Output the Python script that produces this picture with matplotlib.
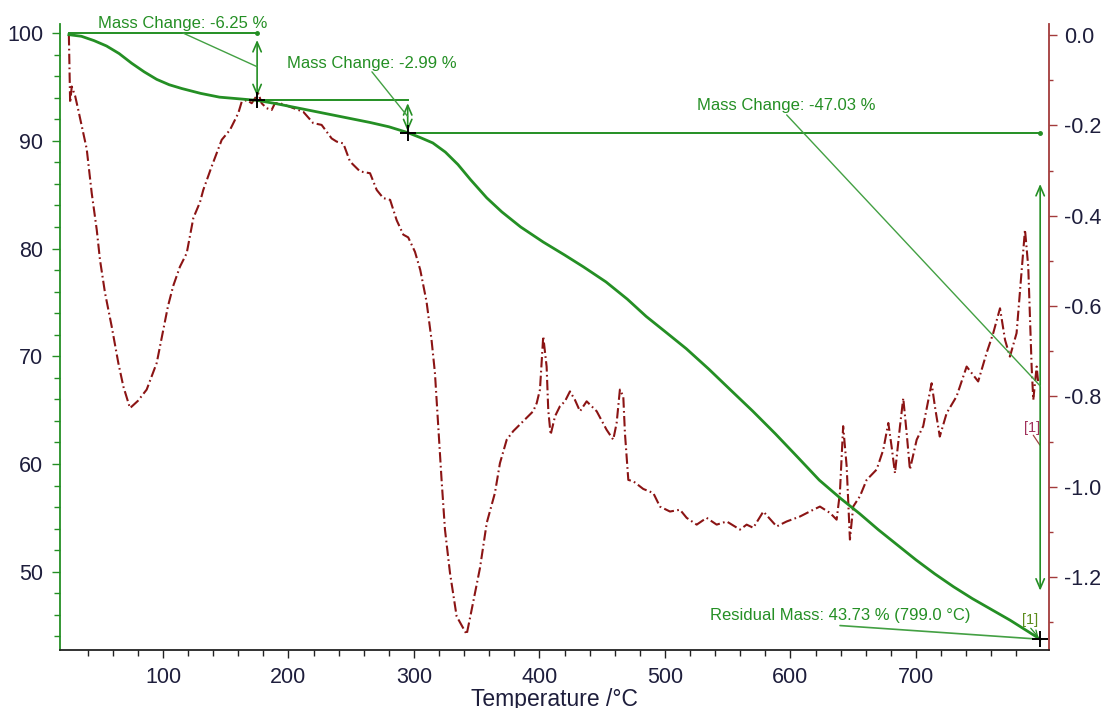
import numpy as np
import matplotlib.pyplot as plt
from matplotlib.ticker import MultipleLocator, FixedLocator, FormatStrFormatter

# TG curve: mass (%) vs temperature (°C)
tg_temp = [25, 35, 45, 55, 65, 75, 85, 95, 105, 115, 130, 145, 160, 175,
           190, 205, 220, 235, 250, 265, 280, 295, 305, 315, 325, 335, 345,
           358, 370, 385, 403, 420, 435, 453, 470, 485, 500, 517, 535, 552,
           570, 588, 606, 623, 640, 655, 670, 685, 700, 715, 730, 745, 760,
           775, 790, 799]
tg_mass = [99.85, 99.7, 99.3, 98.8, 98.1, 97.2, 96.4, 95.7, 95.2, 94.85,
           94.4, 94.05, 93.9, 93.75, 93.45, 93.1, 92.75, 92.4, 92.05, 91.7,
           91.3, 90.76, 90.3, 89.8, 88.95, 87.8, 86.4, 84.7, 83.4, 82.0,
           80.6, 79.4, 78.3, 76.9, 75.3, 73.7, 72.3, 70.7, 68.8, 66.9, 64.9,
           62.8, 60.6, 58.5, 56.8, 55.4, 53.9, 52.5, 51.1, 49.8, 48.6, 47.5,
           46.5, 45.5, 44.4, 43.73]

# DTG curve (%/°C) vs temperature (°C)
dtg_temp = [25.0, 25.5, 26.0, 27.3, 30.0, 32.5, 36.5, 39.2, 43.2, 47.2, 49.8,
            53.8, 59.1, 64.4, 68.4, 73.7, 80.0, 87.0, 95.0, 100.2, 104.0,
            108.2, 113.5, 118.9, 124.2, 129.5, 132.1, 138.8, 146.8, 153.4,
            160.0, 162.7, 166.7, 170.7, 176.0, 178.6, 182.6, 186.6, 189.2,
            193.2, 201.2, 211.8, 219.7, 226.4, 234.4, 238.4, 243.7, 249.0,
            257.0, 265.0, 270.3, 275.5, 281.0, 286.2, 291.5, 295.4, 300.8,
            305.0, 310.0, 314.0, 316.7, 319.4, 322.0, 324.7, 328.7, 334.0,
            342.0, 346.0, 352.6, 358.0, 364.5, 368.5, 373.9, 379.1, 387.1,
            395.0, 397.8, 400.4, 403.0, 405.7, 407.0, 408.9, 412.4, 416.3,
            420.3, 424.3, 428.3, 432.3, 437.6, 445.6, 453.5, 458.8, 461.5,
            464.1, 466.8, 468.1, 470.8, 474.8, 482.7, 490.7, 496.0, 504.0,
            512.0, 517.3, 525.3, 533.2, 541.2, 549.2, 559.8, 565.1, 570.4,
            578.4, 589.0, 597.0, 607.6, 618.2, 623.5, 631.5, 636.8, 639.4,
            642.0, 644.8, 647.4, 650.0, 655.4, 660.7, 668.7, 674.0, 678.0,
            680.6, 683.3, 687.3, 689.9, 692.6, 695.2, 700.6, 705.8, 712.5,
            715.1, 719.0, 724.5, 732.4, 740.4, 749.6, 756.3, 761.6, 767.0,
            771.0, 774.9, 780.2, 786.9, 789.5, 792.2, 793.5, 796.2, 797.5]
dtg_val = [0.0, -0.08, -0.15, -0.114, -0.135, -0.166, -0.217, -0.252, -0.35,
           -0.431, -0.498, -0.571, -0.645, -0.726, -0.778, -0.826, -0.81,
           -0.785, -0.726, -0.653, -0.60, -0.555, -0.513, -0.483, -0.405,
           -0.37, -0.343, -0.291, -0.232, -0.21, -0.173, -0.148, -0.144,
           -0.151, -0.129, -0.151, -0.162, -0.166, -0.151, -0.151, -0.159,
           -0.17, -0.195, -0.199, -0.229, -0.236, -0.24, -0.28, -0.302,
           -0.306, -0.343, -0.361, -0.365, -0.41, -0.442, -0.448, -0.48,
           -0.52, -0.59, -0.675, -0.748, -0.867, -0.985, -1.095, -1.191,
           -1.287, -1.327, -1.272, -1.18, -1.08, -1.014, -0.948, -0.896,
           -0.877, -0.855, -0.833, -0.815, -0.785, -0.667, -0.734, -0.83,
           -0.885, -0.844, -0.822, -0.811, -0.789, -0.808, -0.833, -0.811,
           -0.833, -0.874, -0.896, -0.859, -0.785, -0.80, -0.881, -0.985,
           -0.988, -1.005, -1.014, -1.044, -1.055, -1.051, -1.069, -1.084,
           -1.069, -1.084, -1.077, -1.095, -1.084, -1.091, -1.055, -1.088,
           -1.077, -1.066, -1.051, -1.044, -1.058, -1.073, -1.014, -0.866,
           -0.955, -1.117, -1.044, -1.021, -0.985, -0.962, -0.918, -0.859,
           -0.911, -0.97, -0.866, -0.804, -0.881, -0.962, -0.896, -0.866,
           -0.771, -0.822, -0.889, -0.837, -0.80, -0.734, -0.767, -0.704,
           -0.66, -0.605, -0.675, -0.712, -0.66, -0.431, -0.513, -0.734,
           -0.808, -0.734, -0.771]

# mass change steps
step_temp = [25, 175, 295, 799]
step_mass = [100.0, 93.75, 90.76, 43.73]
mass_change = [-6.25, -2.99, -47.03]
residual_mass = 43.73
residual_temp = 799.0

x_major = [100, 200, 300, 400, 500, 600, 700]
x_minor = list(range(40, 800, 20))

green = '#248f24'
green_thin = '#43a043'
red = '#8b1414'
label_col = '#1e1e3c'

plt.rcParams['font.family'] = ['Liberation Sans', 'DejaVu Sans']
plt.rcParams['axes.unicode_minus'] = False
narrow = ['Liberation Sans Narrow', 'Liberation Sans', 'DejaVu Sans']
ann_size = 12

fig = plt.figure(figsize=(11.03, 7.08), dpi=100)
ax = fig.add_axes([0.0544, 0.0819, 0.8966, 0.8842])
ax2 = ax.twinx()
ax.set_zorder(ax2.get_zorder() + 1)
ax.patch.set_visible(False)

# curves
ax2.plot(dtg_temp, dtg_val, color=red, lw=1.5,
         linestyle=(0, (5, 1.6, 0.8, 1.6)))
ax.plot(tg_temp, tg_mass, color=green, lw=2.0)

# mass change annotations
label_pos = [(116, 100.93), (266.5, 97.2), (597, 93.3)]
pointer_start = [(116, 100.0), (266.5, 96.4), (597, 92.4)]
shrinks = [(5, 3), (2, 1), (37, 35)]
for i in range(3):
    t0, t1 = step_temp[i], step_temp[i + 1]
    m0, m1 = step_mass[i], step_mass[i + 1]
    ax.plot([t0, t1], [m0, m0], color=green, lw=1.4, clip_on=False)
    ax.annotate('', xy=(t1, m1), xytext=(t1, m0),
                arrowprops=dict(arrowstyle='<->,head_length=0.7,head_width=0.3',
                                color=green, lw=1.2,
                                shrinkA=shrinks[i][0], shrinkB=shrinks[i][1]))
    ax.annotate('', xy=(t1, (m0 + m1) / 2), xytext=pointer_start[i],
                arrowprops=dict(arrowstyle='-', color=green_thin, lw=1.0,
                                shrinkA=0, shrinkB=0))
    ax.text(label_pos[i][0], label_pos[i][1],
            f'Mass Change: {mass_change[i]:.2f} %', color=green,
            fontsize=ann_size, family=narrow, ha='center', va='center',
            clip_on=False)
for i in [0, 2]:
    ax.plot(step_temp[i + 1], step_mass[i], 'o', ms=2.5, color=green, clip_on=False)

ax.plot(step_temp[1:], step_mass[1:], '+', ms=11, mew=1.4, color='black',
        clip_on=False, zorder=5)

# residual mass
ax.text(639.5, 45.96, f'Residual Mass: {residual_mass:.2f} % ({residual_temp:.1f} °C)',
        color=green, fontsize=ann_size, family=narrow, ha='center', va='center')
ax.annotate('', xy=(residual_temp, residual_mass), xytext=(639.5, 45.0),
            arrowprops=dict(arrowstyle='-', color=green_thin, lw=1.2,
                            shrinkA=0, shrinkB=0))
ax.text(790.8, 45.5, '[1]', color='#5c8c1c', fontsize=10.5, family=narrow,
        ha='center', va='center')
ax.annotate('', xy=(residual_temp, residual_mass), xytext=(791.5, 44.75),
            arrowprops=dict(arrowstyle='->,head_length=0.4,head_width=0.2',
                            color=green, lw=0.9, shrinkA=0, shrinkB=2))
ax2.text(792.2, -0.869, '[1]', color='#a0305a', fontsize=10.5, family=narrow,
         ha='center', va='center')
ax2.annotate('', xy=(798.8, -0.908), xytext=(793.5, -0.886),
             arrowprops=dict(arrowstyle='-', color='#a04040', lw=0.9,
                             shrinkA=0, shrinkB=0))

# axes
ax.set_xlim(17.93, 806.0)
ax.set_ylim(42.73, 100.84)
ax2.set_ylim(-1.3616, 0.0244)

ax.xaxis.set_major_locator(FixedLocator(x_major))
ax.xaxis.set_minor_locator(FixedLocator([t for t in x_minor if t not in x_major]))
ax.yaxis.set_major_locator(MultipleLocator(10))
ax.yaxis.set_minor_locator(MultipleLocator(2))
ax2.yaxis.set_major_locator(MultipleLocator(0.2))
ax2.yaxis.set_minor_locator(MultipleLocator(0.1))
ax2.yaxis.set_major_formatter(FormatStrFormatter('%.1f'))

ax.tick_params(axis='x', which='major', length=6, width=1, color='#222222',
               labelsize=15.5, labelcolor=label_col, pad=6)
ax.tick_params(axis='x', which='minor', length=4, width=1, color='#222222')
ax.tick_params(axis='y', which='major', length=6, width=1, color=green,
               labelsize=15.5, labelcolor=label_col, pad=6)
ax.tick_params(axis='y', which='minor', length=4, width=1, color=green)
ax2.tick_params(axis='y', which='major', length=6, width=1, color='#a33a3a',
                labelsize=15.5, labelcolor=label_col, pad=5)
ax2.tick_params(axis='y', which='minor', length=3, width=1, color='#a33a3a')

ax.spines['top'].set_visible(False)
ax.spines['right'].set_visible(False)
ax.spines['left'].set_color(green)
ax.spines['left'].set_linewidth(1.3)
ax.spines['bottom'].set_color('#222222')
ax.spines['bottom'].set_linewidth(1.3)
for s in ['top', 'left', 'bottom']:
    ax2.spines[s].set_visible(False)
ax2.spines['right'].set_color('#a33a3a')
ax2.spines['right'].set_linewidth(1.3)

ax.set_xlabel('Temperature /°C', fontsize=16.5, color=label_col, labelpad=0)

fig.savefig('out.png', dpi=100)
